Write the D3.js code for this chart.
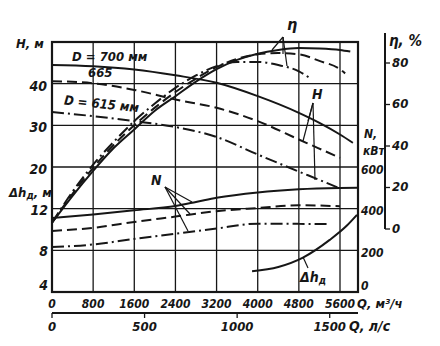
<!DOCTYPE html>
<html><head><meta charset="utf-8">
<script src="https://cdn.jsdelivr.net/npm/d3@7"></script>
<style>
body{margin:0;background:#fff;}
svg text{font-family:"DejaVu Sans Condensed","DejaVu Sans",sans-serif;font-style:italic;font-weight:bold;fill:#161616;}
</style></head>
<body><svg id="c" width="440" height="346"></svg>
<script>
// ---- data ----
const qTicks = [0, 800, 1600, 2400, 3200, 4000, 4800, 5600];
const lsTicks = [0, 500, 1000, 1500];
const hTicks = [40, 30, 20];
const dhTicks = [12, 8, 4];
const nTicks = [0, 200, 400, 600];
const etaTicks = [0, 20, 40, 60, 80];

const H700 = [[0,44.5],[800,44.2],[1600,43.4],[2400,42.0],[3200,40.2],[4000,37.0],[4800,33.0],[5200,30.6],[5600,27.8],[5850,25.8]];
const H665 = [[0,40.6],[800,40.1],[1600,38.5],[2400,36.2],[3200,34.2],[4000,31.0],[4800,26.6],[5600,22.2]];
const H615 = [[0,33.2],[800,32.2],[1600,31.0],[2400,29.6],[3200,27.2],[4000,23.0],[4800,18.9],[5200,16.9],[5550,15.1]];

const eta700 = [[0,3],[400,16],[800,28],[1200,39],[1600,48],[2000,57],[2400,64],[2800,71],[3200,77],[3600,81.5],[4000,84.5],[4400,86.3],[4800,87.2],[5200,87],[5600,86.3],[5800,85.5]];
const eta665 = [[0,3],[400,17],[800,29.5],[1200,40.5],[1600,50],[2000,58.5],[2400,66],[2800,72.5],[3200,78],[3600,82],[4000,84.2],[4400,84.8],[4800,84.2],[5200,81],[5600,77],[5700,75]];
const eta615 = [[0,3],[400,18],[800,31],[1200,42],[1600,52],[2000,60.5],[2400,68],[2800,74],[3200,78.5],[3600,80.5],[4000,80.5],[4400,79],[4800,76],[5000,73]];

const N700 = [[0,355],[800,372],[1600,392],[2400,413],[2800,432],[3200,452],[4000,478],[4800,493],[5600,499],[5950,500]];
const N665 = [[0,293],[800,308],[1600,336],[2400,362],[3200,388],[4000,403],[4800,416],[5600,412]];
const N615 = [[0,216],[800,228],[1600,255],[2400,280],[3200,305],[4000,328],[4800,327],[5400,326]];

const DH = [[3890,6.0],[4400,6.4],[4880,7.3],[5400,9.0],[5740,10.4],[5930,11.4]];

// ---- scales ----
const L = 52, R = 358, T = 42, B = 292;
const x = d3.scaleLinear().domain([0, 5600]).range([L, 340]);
const xLs = d3.scaleLinear().domain([0, 1500]).range([x(0), x(5400)]);
const yH = d3.scaleLinear().domain([50, -10]).range([T, B]);
const yDh = d3.scaleLinear().domain([4, 28]).range([B, T]);
const yN = d3.scaleLinear().domain([0, 1200]).range([B, T]);
const yEta = d3.scaleLinear().domain([0, 80]).range([229, 63]);

const svg = d3.select("#c");
const ink = "#161616";

// grid
const g = svg.append("g").attr("stroke", ink).attr("stroke-width", 1.3);
qTicks.slice(1).forEach(q => g.append("line").attr("x1", x(q)).attr("x2", x(q)).attr("y1", T).attr("y2", B));
hTicks.forEach(h => g.append("line").attr("x1", L).attr("x2", R).attr("y1", yH(h)).attr("y2", yH(h)));
dhTicks.slice(0,2).forEach(h => g.append("line").attr("x1", L).attr("x2", R).attr("y1", yDh(h)).attr("y2", yDh(h)));
svg.append("rect").attr("x", L).attr("y", T).attr("width", R - L).attr("height", B - T)
  .attr("fill", "none").attr("stroke", ink).attr("stroke-width", 2.2);

// curves
const styles = { solid: null, dash: "10,5", dashdot: "12,4,2,4" };
function curve(data, yS, st, w) {
  const line = d3.line().x(d => x(d[0])).y(d => yS(d[1])).curve(d3.curveMonotoneX);
  svg.append("path").attr("d", line(data)).attr("fill", "none").attr("stroke", ink)
    .attr("stroke-width", w || 2).attr("stroke-dasharray", styles[st]);
}
curve(H700, yH, "solid"); curve(H665, yH, "dash"); curve(H615, yH, "dashdot");
curve(eta700, yEta, "solid"); curve(eta665, yEta, "dash"); curve(eta615, yEta, "dashdot");
curve(N700, yN, "solid"); curve(N665, yN, "dash"); curve(N615, yN, "dashdot");
curve(DH, yDh, "solid");

// leader lines (annotation pointers)
function leaders(ax, ay, pts) {
  pts.forEach(p => svg.append("line").attr("x1", ax).attr("y1", ay).attr("x2", p[0]).attr("y2", p[1])
    .attr("stroke", ink).attr("stroke-width", 1.2));
}
leaders(283, 37, [[272, 50], [283, 54], [287, 66]]);
leaders(313, 103, [[308, 121], [303, 141], [315, 180]]);
leaders(165, 187, [[192, 202], [190, 214], [188, 231]]);
leaders(308, 268, [[303, 257]]);

function txt(s, tx, ty, size, anchor, extra) {
  const t = svg.append("text").attr("x", tx).attr("y", ty).attr("font-size", size)
    .attr("text-anchor", anchor || "start").attr("dominant-baseline", "middle").text(s);
  if (extra) extra(t);
  return t;
}

// curve labels
txt("D = 700 мм", 72, 57, 13);
txt("665", 88, 73, 13);
txt("D = 615 мм", 64, 101, 13, "start", t => t.attr("transform", "rotate(6,64,101)"));
txt("η", 287, 25, 16);
txt("H", 312, 95, 14);
txt("N", 151, 181, 14);
const dht = txt("Δh", 300, 278, 14);
dht.append("tspan").attr("font-size", 10).attr("dy", 3).text("д");

// left axis
txt("H, м", 16, 44, 13);
hTicks.forEach(h => txt(String(h), 47, yH(h) + 3, 14, "end"));
const dl = txt("Δh", 9, 193, 13);
dl.append("tspan").attr("font-size", 10).attr("dy", 3).text("д");
dl.append("tspan").attr("dy", -3).text(", м");
dhTicks.forEach(h => txt(String(h), 48, h === 4 ? 286 : yDh(h) + 2, 14, "end"));

// bottom axes
qTicks.forEach(q => txt(String(q), x(q), 304, 12, "middle"));
txt("Q, м³/ч", 357, 304, 13);
svg.append("line").attr("x1", L).attr("x2", R).attr("y1", 313).attr("y2", 313).attr("stroke", ink).attr("stroke-width", 2);
lsTicks.forEach(v => {
  svg.append("line").attr("x1", xLs(v)).attr("x2", xLs(v)).attr("y1", 313).attr("y2", 318).attr("stroke", ink).attr("stroke-width", 1.3);
  txt(String(v), xLs(v), 327, 13, "middle");
});
txt("Q, л/с", 349, 327, 14);

// right N axis
nTicks.forEach(n => txt(String(n), 361, n === 0 ? 286 : yN(n) + 3, 12));
txt("N,", 364, 134, 12);
txt("кВт", 363, 151, 12);

// efficiency axis
svg.append("line").attr("x1", 385).attr("x2", 385).attr("y1", 33).attr("y2", yEta(0)).attr("stroke", ink).attr("stroke-width", 2);
etaTicks.forEach(e => {
  svg.append("line").attr("x1", 385).attr("x2", 390).attr("y1", yEta(e)).attr("y2", yEta(e)).attr("stroke", ink).attr("stroke-width", 1.3);
  txt(String(e), 392, yEta(e), 13);
});
txt("η, %", 389, 41, 15);
</script></body></html>
